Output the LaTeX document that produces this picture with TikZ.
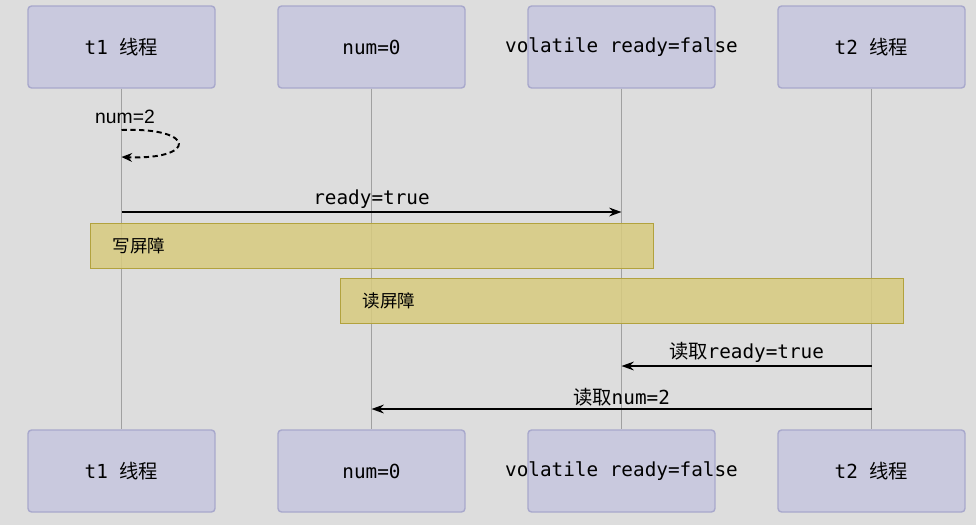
\documentclass[tikz,border=0pt]{standalone}
\usepackage{fontspec}
\setmainfont{Liberation Sans}
\setmonofont{DejaVu Sans Mono}
\newfontfamily\cjk{Noto Sans CJK SC}
\usetikzlibrary{arrows.meta}
\definecolor{bgray}{RGB}{221,221,221}
\definecolor{boxfill}{RGB}{201,201,222}
\definecolor{boxline}{RGB}{168,168,204}
\definecolor{lifegray}{RGB}{160,160,160}
\definecolor{barfill}{RGB}{216,203,126}
\definecolor{barline}{RGB}{178,162,62}
\newcommand{\zh}[1]{{\cjk #1}}
\begin{document}
\begin{tikzpicture}[x=0.02cm,y=-0.02cm,
  actor/.style={draw=boxline,fill=boxfill,rounded corners=2pt,line width=0.8pt,
    minimum width=3.74cm,minimum height=1.64cm,inner sep=0pt},
  lbl/.style={font=\fontsize{11}{13}\selectfont\ttfamily},
  life/.style={draw=lifegray,line width=1pt},
  barrier/.style={draw=barline,fill=barfill,fill opacity=0.85,text opacity=1,line width=0.8pt,
    minimum height=0.9cm,inner xsep=0.44cm,text width=10.38cm,align=left,
    font=\fontsize{10}{12}\selectfont\cjk},
  msg/.style={-{Stealth[length=7pt,width=5pt]},line width=1pt}]
\fill[bgray] (0,0) rectangle (976,525);
\useasboundingbox (0,0) rectangle (976,525);
% actors, top row
\node[actor,label={[lbl]center:t1 \zh{线程}}] (t1top) at (121.5,47) {};
\node[actor,label={[lbl]center:num=0}] (numtop) at (371.5,47) {};
\node[actor,label={[lbl]center:volatile ready=false}] (rdytop) at (621.5,47) {};
\node[actor,label={[lbl]center:t2 \zh{线程}}] (t2top) at (871.5,47) {};
% actors, bottom row
\node[actor,label={[lbl]center:t1 \zh{线程}}] (t1bot) at (121.5,471) {};
\node[actor,label={[lbl]center:num=0}] (numbot) at (371.5,471) {};
\node[actor,label={[lbl]center:volatile ready=false}] (rdybot) at (621.5,471) {};
\node[actor,label={[lbl]center:t2 \zh{线程}}] (t2bot) at (871.5,471) {};
% lifelines
\draw[life] (t1top) -- (t1bot);
\draw[life] (numtop) -- (numbot);
\draw[life] (rdytop) -- (rdybot);
\draw[life] (t2top) -- (t2bot);
% self message
\node[font=\fontsize{11}{13}\selectfont,anchor=west] (selflbl) at (89,117) {num=2};
\coordinate (s1) at (t1top.south |- 0,130);
\coordinate (s2) at (t1top.south |- 0,157);
\draw[densely dashed,line width=1.1pt,-{Stealth[length=6pt,width=5pt]}]
  (s1) .. controls (197,127) and (197,160) .. (s2);
% ready=true
\coordinate (a1) at (t1top.south |- 0,212);
\coordinate (a2) at (rdytop.south |- 0,212);
\draw[msg] (a1) -- node[lbl,above=-2pt] (m1) {ready=true} (a2);
% barriers
\node[barrier,anchor=north west] (wbar) at (90,223) {写屏障};
\node[barrier,anchor=north west] (rbar) at (340,278) {读屏障};
% reads from t2
\coordinate (b1) at (t2top.south |- 0,366);
\coordinate (b2) at (rdytop.south |- 0,366);
\draw[msg] (b1) -- node[lbl,above=-2pt] (m2) {\zh{读取}ready=true} (b2);
\coordinate (c1) at (t2top.south |- 0,409);
\coordinate (c2) at (numtop.south |- 0,409);
\draw[msg] (c1) -- node[lbl,above=-2pt] (m3) {\zh{读取}num=2} (c2);
\end{tikzpicture}
\end{document}
